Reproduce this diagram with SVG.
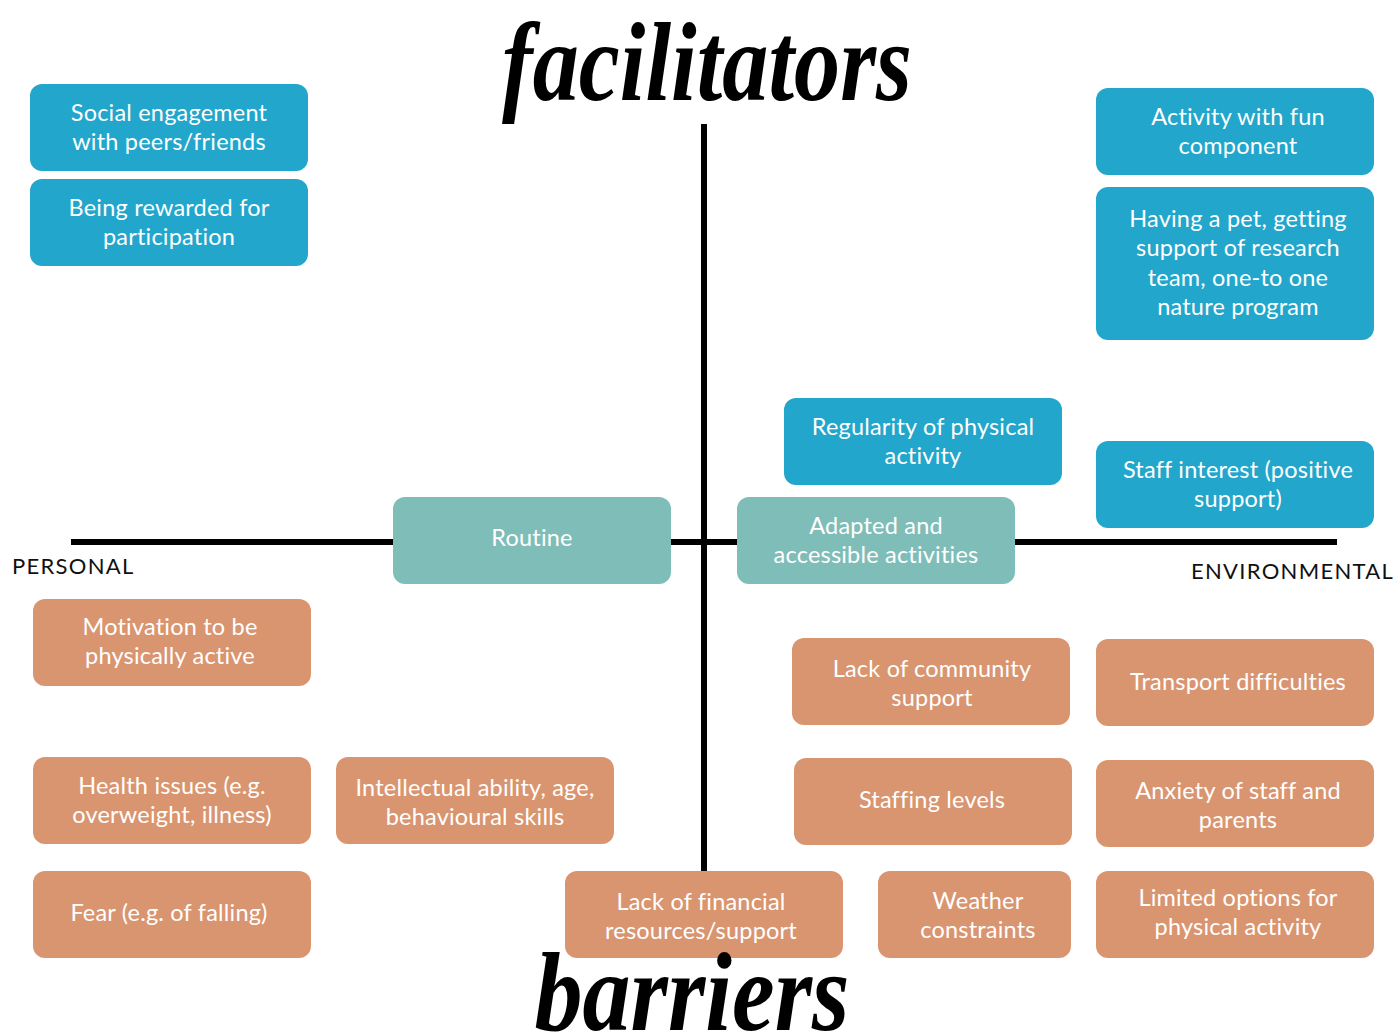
<svg xmlns="http://www.w3.org/2000/svg" width="1394" height="1036" viewBox="0 0 1394 1036">
<style>
.b{fill:#22A6CB}
.t{fill:#7FBDB8}
.o{fill:#D99570}
.lbl{font-family:Lato,"Noto Sans",sans-serif;font-size:23.5px;fill:#fff;text-anchor:middle;letter-spacing:0.2px}
.ax{font-family:Lato,"Noto Sans",sans-serif;font-size:22px;fill:#111;letter-spacing:1.3px}
.hand{font-family:"Liberation Serif",serif;font-style:italic;font-weight:bold;fill:#000}
</style>
<rect width="1394" height="1036" fill="#fff"/>
<g id="connectors" stroke="#000" stroke-width="6" fill="none">
<line x1="71" y1="542" x2="1337" y2="542"/>
<line x1="704" y1="124" x2="704" y2="871"/>
</g>
<text class="hand" x="707" y="100" font-size="112" text-anchor="middle" textLength="410" lengthAdjust="spacingAndGlyphs">facilitators</text>
<text class="ax" x="12" y="574">PERSONAL</text>
<text class="ax" x="1191" y="579">ENVIRONMENTAL</text>
<g id="n1"><rect class="b" x="30" y="84" width="278" height="87" rx="12"/><text class="lbl" x="169" y="121">Social engagement</text><text class="lbl" x="169" y="150">with peers/friends</text></g>
<g id="n2"><rect class="b" x="30" y="179" width="278" height="87" rx="12"/><text class="lbl" x="169" y="216">Being rewarded for</text><text class="lbl" x="169" y="245">participation</text></g>
<g id="n3"><rect class="b" x="1096" y="88" width="278" height="87" rx="12"/><text class="lbl" x="1238" y="125">Activity with fun</text><text class="lbl" x="1238" y="154">component</text></g>
<g id="n4"><rect class="b" x="1096" y="187" width="278" height="153" rx="12"/><text class="lbl" x="1238" y="227">Having a pet, getting</text><text class="lbl" x="1238" y="256">support of research</text><text class="lbl" x="1238" y="286">team, one-to one</text><text class="lbl" x="1238" y="315">nature program</text></g>
<g id="n5"><rect class="b" x="784" y="398" width="278" height="87" rx="12"/><text class="lbl" x="923" y="435">Regularity of physical</text><text class="lbl" x="923" y="464">activity</text></g>
<g id="n6"><rect class="b" x="1096" y="441" width="278" height="87" rx="12"/><text class="lbl" x="1238" y="478">Staff interest (positive</text><text class="lbl" x="1238" y="507">support)</text></g>
<g id="n7"><rect class="t" x="393" y="497" width="278" height="87" rx="12"/><text class="lbl" x="532" y="546">Routine</text></g>
<g id="n8"><rect class="t" x="737" y="497" width="278" height="87" rx="12"/><text class="lbl" x="876" y="534">Adapted and</text><text class="lbl" x="876" y="563">accessible activities</text></g>
<g id="n9"><rect class="o" x="33" y="599" width="278" height="87" rx="12"/><text class="lbl" x="170" y="635">Motivation to be</text><text class="lbl" x="170" y="664">physically active</text></g>
<g id="n10"><rect class="o" x="792" y="638" width="278" height="87" rx="12"/><text class="lbl" x="932" y="677">Lack of community</text><text class="lbl" x="932" y="706">support</text></g>
<g id="n11"><rect class="o" x="1096" y="639" width="278" height="87" rx="12"/><text class="lbl" x="1238" y="690">Transport difficulties</text></g>
<g id="n12"><rect class="o" x="33" y="757" width="278" height="87" rx="12"/><text class="lbl" x="172" y="794">Health issues (e.g.</text><text class="lbl" x="172" y="823">overweight, illness)</text></g>
<g id="n13"><rect class="o" x="336" y="757" width="278" height="87" rx="12"/><text class="lbl" x="475" y="796">Intellectual ability, age,</text><text class="lbl" x="475" y="825">behavioural skills</text></g>
<g id="n14"><rect class="o" x="794" y="758" width="278" height="87" rx="12"/><text class="lbl" x="932" y="808">Staffing levels</text></g>
<g id="n15"><rect class="o" x="1096" y="760" width="278" height="87" rx="12"/><text class="lbl" x="1238" y="799">Anxiety of staff and</text><text class="lbl" x="1238" y="828">parents</text></g>
<g id="n16"><rect class="o" x="33" y="871" width="278" height="87" rx="12"/><text class="lbl" x="169" y="921">Fear (e.g. of falling)</text></g>
<g id="n17"><rect class="o" x="565" y="871" width="278" height="87" rx="12"/><text class="lbl" x="701" y="910">Lack of financial</text><text class="lbl" x="701" y="939">resources/support</text></g>
<g id="n18"><rect class="o" x="878" y="871" width="193" height="87" rx="12"/><text class="lbl" x="978" y="909">Weather</text><text class="lbl" x="978" y="938">constraints</text></g>
<g id="n19"><rect class="o" x="1096" y="871" width="278" height="87" rx="12"/><text class="lbl" x="1238" y="906">Limited options for</text><text class="lbl" x="1238" y="935">physical activity</text></g>
<text class="hand" x="692" y="1030" font-size="112" text-anchor="middle" textLength="315" lengthAdjust="spacingAndGlyphs">barriers</text>
</svg>
